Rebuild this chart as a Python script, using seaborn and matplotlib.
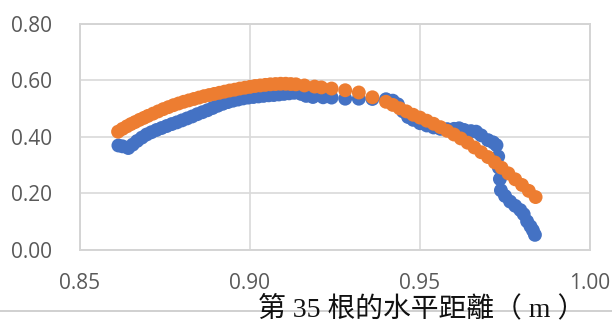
import matplotlib
matplotlib.use("Agg")
import matplotlib.pyplot as plt
import pandas as pd
import seaborn as sns
from matplotlib.lines import Line2D

# Horizontal distance (m) and height (m) of the measured root profile
measured_x = [0.8613, 0.8625, 0.8642, 0.8655, 0.8668, 0.8682, 0.8696, 0.8710, 0.8725, 0.8740,
              0.8755, 0.8770, 0.8785, 0.8800, 0.8815, 0.8830, 0.8845, 0.8860, 0.8875, 0.8890,
              0.8905, 0.8920, 0.8935, 0.8950, 0.8965, 0.8980, 0.8995, 0.9010, 0.9025, 0.9040,
              0.9055, 0.9070, 0.9085, 0.9100, 0.9115, 0.9130, 0.9140, 0.9150, 0.9165, 0.9185,
              0.9215, 0.9240, 0.9280, 0.9320, 0.9360, 0.9400, 0.9420, 0.9435, 0.9450, 0.9465,
              0.9480, 0.9500, 0.9520, 0.9540, 0.9560, 0.9580, 0.9600, 0.9615, 0.9630, 0.9650,
              0.9665, 0.9680, 0.9700, 0.9715, 0.9725, 0.9730, 0.9732, 0.9735, 0.9738, 0.9750,
              0.9765, 0.9780, 0.9795, 0.9805, 0.9815, 0.9825, 0.9832, 0.9838]
measured_y = [0.369, 0.366, 0.360, 0.372, 0.385, 0.397, 0.408, 0.416, 0.424, 0.431,
              0.438, 0.445, 0.451, 0.458, 0.465, 0.472, 0.480, 0.487, 0.494, 0.502,
              0.510, 0.517, 0.523, 0.528, 0.532, 0.536, 0.539, 0.541, 0.543, 0.545,
              0.547, 0.548, 0.550, 0.552, 0.554, 0.556, 0.560, 0.552, 0.545, 0.541,
              0.540, 0.539, 0.535, 0.535, 0.534, 0.533, 0.528, 0.515, 0.490, 0.470,
              0.460, 0.448, 0.440, 0.433, 0.428, 0.427, 0.428, 0.430, 0.424, 0.420,
              0.418, 0.405, 0.388, 0.380, 0.370, 0.330, 0.290, 0.250, 0.210, 0.190,
              0.170, 0.155, 0.140, 0.125, 0.100, 0.082, 0.068, 0.052]

# Fitted curve evaluated along the same span
fitted_x = [0.8612, 0.8625, 0.8638, 0.8650, 0.8662, 0.8675, 0.8688, 0.8700, 0.8715, 0.8730,
            0.8745, 0.8760, 0.8775, 0.8790, 0.8805, 0.8820, 0.8835, 0.8850, 0.8865, 0.8880,
            0.8895, 0.8910, 0.8925, 0.8940, 0.8955, 0.8970, 0.8985, 0.9000, 0.9015, 0.9030,
            0.9045, 0.9060, 0.9075, 0.9090, 0.9105, 0.9120, 0.9135, 0.9160, 0.9190, 0.9210,
            0.9240, 0.9280, 0.9320, 0.9360, 0.9400, 0.9420, 0.9440, 0.9460, 0.9480, 0.9500,
            0.9520, 0.9540, 0.9560, 0.9580, 0.9600, 0.9620, 0.9640, 0.9660, 0.9680, 0.9700,
            0.9720, 0.9740, 0.9760, 0.9780, 0.9800, 0.9820, 0.9840]
fitted_y = [0.418, 0.428, 0.437, 0.445, 0.452, 0.460, 0.467, 0.474, 0.482, 0.490,
            0.498, 0.505, 0.512, 0.518, 0.524, 0.529, 0.534, 0.539, 0.544, 0.548,
            0.552, 0.556, 0.560, 0.564, 0.567, 0.571, 0.574, 0.577, 0.580, 0.582,
            0.584, 0.586, 0.587, 0.588, 0.588, 0.587, 0.586, 0.582, 0.578, 0.575,
            0.571, 0.565, 0.557, 0.540, 0.524, 0.513, 0.501, 0.490, 0.478, 0.468,
            0.457, 0.446, 0.434, 0.421, 0.408, 0.394, 0.379, 0.362, 0.345, 0.328,
            0.309, 0.290, 0.270, 0.249, 0.229, 0.208, 0.186]

x_ticks = [0.85, 0.90, 0.95, 1.00]
y_ticks = [0.00, 0.20, 0.40, 0.60, 0.80]
x_label = "第 35 根的水平距離（ m ）"

df = pd.concat([
    pd.DataFrame({"x": measured_x, "y": measured_y, "series": "measured"}),
    pd.DataFrame({"x": fitted_x, "y": fitted_y, "series": "fitted"}),
], ignore_index=True)

sns.set_theme(style="white")
plt.rcParams["font.family"] = ["Open Sans", "DejaVu Sans"]

W, H = 612, 323
fig = plt.figure(figsize=(W / 100, H / 100), dpi=100)
ax = fig.add_axes([80 / W, 1 - 249.5 / H, 510 / W, 225.5 / H])

sns.scatterplot(data=df, x="x", y="y", hue="series",
                palette={"measured": "#4472C4", "fitted": "#ED7D31"},
                s=100, linewidth=0, alpha=1, legend=False, ax=ax, zorder=3)

ax.set_xlim(0.85, 1.00)
ax.set_ylim(0.0, 0.80)
ax.set_xticks(x_ticks)
ax.set_yticks(y_ticks)
ax.set_xticklabels([f"{v:.2f}" for v in x_ticks])
ax.set_yticklabels([f"{v:.2f}" for v in y_ticks])
ax.set_xlabel("")
ax.set_ylabel("")
ax.grid(True, color="#d9d9d9", linewidth=1.2, zorder=0)
ax.set_axisbelow(True)
for sp in ax.spines.values():
    sp.set_color("#d4d4d4")
    sp.set_linewidth(1.4)
ax.tick_params(axis="both", length=0, labelsize=15, labelcolor="#595959")
ax.tick_params(axis="y", pad=20)
ax.tick_params(axis="x", pad=17)

# page rule under the chart, with the axis caption on top of it
fig.add_artist(Line2D([0, 1], [1 - 310.5 / H] * 2, transform=fig.transFigure,
                      color="#c8c8c8", linewidth=1.2, zorder=1))
fig.text(422 / W, 1 - 309 / H, x_label, ha="center", va="center",
         fontsize=20, color="#111111",
         family=["Liberation Serif", "Noto Sans CJK TC"], zorder=2)

fig.savefig("out.png", dpi=100)
